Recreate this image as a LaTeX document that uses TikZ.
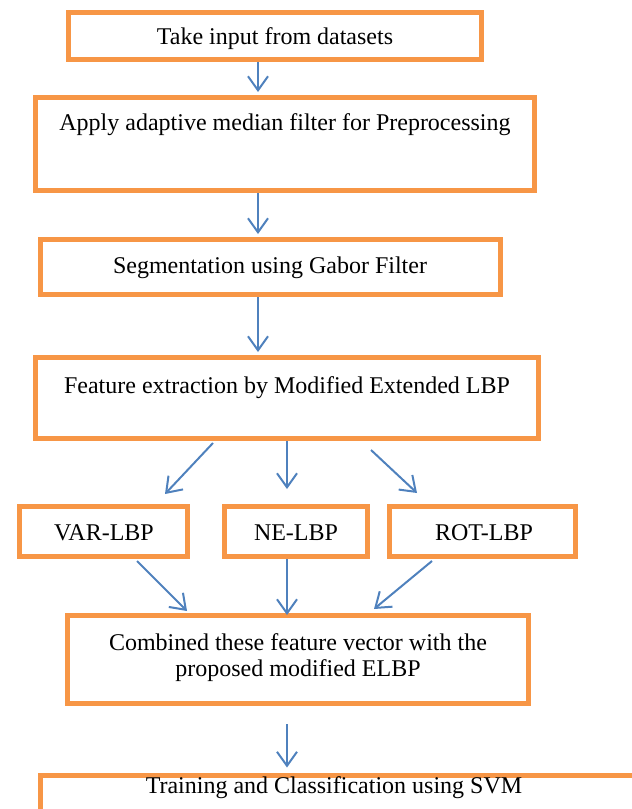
\documentclass[tikz,border=0pt]{standalone}
\usepackage{fontspec}
\setmainfont{Liberation Serif}
\usetikzlibrary{arrows.meta}
\definecolor{boxorange}{HTML}{F79646}
\definecolor{arrowblue}{HTML}{4F81BD}
\begin{document}
\begin{tikzpicture}[x=1pt,y=-1pt,
  box/.style={draw=boxorange,line width=5pt,fill=white,rectangle,inner sep=0pt},
  lbl/.style={font=\fontsize{24}{29}\selectfont,inner sep=0pt,align=center},
  arr/.style={draw=arrowblue,line width=2pt,-{Straight Barb[length=14pt,width=20pt,line width=2pt]}}]
\useasboundingbox (0,0) rectangle (632,809);
\begin{scope}
\clip (0,0) rectangle (632,809);
% boxes: center, size = outer size - line width
\node[box,minimum width=413pt,minimum height=47pt] (b1) at (275,36) {};
\node[box,minimum width=499pt,minimum height=93pt] (b2) at (285,144) {};
\node[box,minimum width=460pt,minimum height=55pt] (b3) at (270.5,267) {};
\node[box,minimum width=503pt,minimum height=81pt] (b4) at (287,398) {};
\node[box,minimum width=168pt,minimum height=50pt] (v) at (103.5,531.5) {};
\node[box,minimum width=143pt,minimum height=50pt] (n) at (296,531.5) {};
\node[box,minimum width=186pt,minimum height=50pt] (r) at (482.5,531.5) {};
\node[box,minimum width=461pt,minimum height=88pt] (b6) at (298,659.5) {};
\node[box,minimum width=620pt,minimum height=80pt] (b7) at (350,815) {};
\end{scope}
% texts
\node[lbl] (t1) at (275,39) {Take input from datasets};
\node[lbl] (t2) at (285,125) {Apply adaptive median filter for Preprocessing};
\node[lbl] (t3) at (270,268) {Segmentation using Gabor Filter};
\node[lbl] (t4) at (287,388) {Feature extraction by Modified Extended LBP};
\node[lbl] (tv) at (104,533) {VAR-LBP};
\node[lbl] (tn) at (296,533) {NE-LBP};
\node[lbl] (tr) at (484,533) {ROT-LBP};
\node[lbl] (t6a) at (298,642) {Combined these feature vector with the};
\node[lbl] (t6b) at (298,671) {proposed modified ELBP};
\node[lbl] (t7) at (334,788) {Training and Classification using SVM};
% arrow anchor coordinates
\coordinate (xa) at (258,0);
\coordinate (xm) at (287,0);
\coordinate (s4l) at (213,443);
\coordinate (e4l) at (165,494);
\coordinate (s4r) at (371,450);
\coordinate (e4r) at (417,493);
\coordinate (svl) at (137,561);
\coordinate (evl) at (187,611);
\coordinate (srl) at (432,561);
\coordinate (erl) at (374,609);
\draw[arr] (b1.south -| xa) -- ([yshift=3pt]b2.north -| xa);
\draw[arr] (b2.south -| xa) -- ([yshift=3pt]b3.north -| xa);
\draw[arr] (b3.south -| xa) -- ([yshift=3pt]b4.north -| xa);
\draw[arr] (s4l) -- (e4l);
\draw[arr] (b4.south -| xm) -- ([yshift=15pt]n.north -| xm);
\draw[arr] (s4r) -- (e4r);
\draw[arr] (svl) -- (evl);
\draw[arr] (n.south -| xm) -- ([yshift=-2pt]b6.north -| xm);
\draw[arr] (srl) -- (erl);
\draw[arr] ([yshift=-18pt]b6.south -| xm) -- ([yshift=5pt]b7.north -| xm);
\end{tikzpicture}
\end{document}
